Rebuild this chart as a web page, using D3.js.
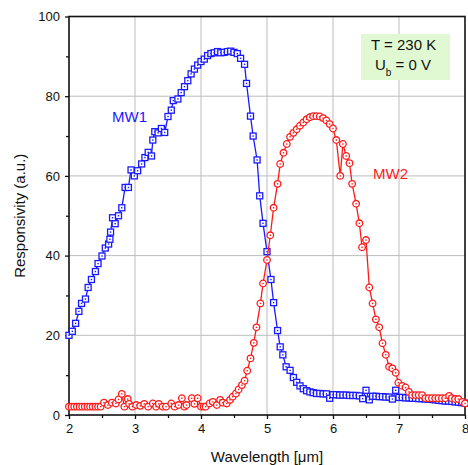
<!DOCTYPE html>
<html>
<head>
<meta charset="utf-8">
<script src="https://cdn.jsdelivr.net/npm/d3@7"></script>
<style>
  body { margin:0; background:#fff; }
  svg text { font-family: "Liberation Sans", Arial, sans-serif; fill:#111; }
</style>
</head>
<body>
<div id="chart"></div>
<script>
// MW1 (blue squares)
var mw1Wl = [2.00,2.05,2.10,2.15,2.19,2.25,2.29,2.34,2.40,2.44,2.50,2.55,2.60,2.62,2.63,2.66,2.70,2.75,2.80,2.85,
  2.90,2.94,2.99,3.04,3.10,3.15,3.20,3.25,3.27,3.30,3.35,3.40,3.45,3.50,3.55,3.58,3.65,3.70,3.75,3.80,
  3.85,3.90,3.95,4.00,4.05,4.10,4.15,4.20,4.25,4.30,4.35,4.40,4.45,4.50,4.55,4.60,4.66,4.69,4.75,4.79,
  4.85,4.89,4.94,5.00,5.06,5.10,5.16,5.20,5.24,5.29,5.35,5.40,5.45,5.50,5.55,5.60,5.65,5.70,5.75,5.80,
  5.85,5.90,5.95,6.00,6.05,6.10,6.15,6.20,6.25,6.30,6.35,6.40,6.45,6.50,6.55,6.60,6.65,6.70,6.75,6.80,
  6.85,6.90,6.95,7.00,7.05,7.10,7.15,7.20,7.25,7.30,7.35,7.40,7.45,7.50,7.55,7.60,7.65,7.70,7.75,7.80,
  7.85,7.90,7.95,8.00];
var mw1Resp = [20.0,21.0,23.0,26.0,28.0,29.1,32.0,34.0,36.0,38.0,39.9,41.9,42.9,44.1,45.9,49.5,48.0,50.0,52.0,57.1,
  57.1,61.5,60.0,61.3,63.0,64.6,65.9,65.0,69.0,71.1,70.8,71.9,70.9,74.9,76.5,78.9,79.3,80.9,82.4,83.9,
  85.6,86.8,87.8,88.7,89.3,90.2,90.7,90.9,91.2,90.9,91.0,91.2,91.3,91.0,90.7,89.5,88.0,83.2,75.0,70.0,
  64.0,55.0,48.1,41.0,34.0,28.2,21.2,17.1,15.1,12.1,11.2,9.4,8.2,7.3,6.6,6.1,5.8,5.6,5.4,5.4,
  5.3,5.3,4.2,5.1,5.1,5.0,5.0,5.0,4.9,4.9,4.9,4.8,4.1,6.2,3.8,4.7,4.7,4.6,4.6,4.5,
  4.5,4.0,6.2,4.4,4.4,4.3,4.3,4.2,4.2,4.1,4.1,4.0,4.0,3.9,3.8,3.7,3.6,3.5,3.5,3.4,
  3.3,3.2,3.1,3.0];

// MW2 (red circles)
var mw2Wl = [2.00,2.04,2.08,2.12,2.16,2.20,2.24,2.28,2.32,2.36,2.40,2.44,2.48,2.53,2.59,2.65,2.71,2.75,2.80,2.84,
  2.89,2.91,2.96,3.02,3.08,3.14,3.20,3.27,3.32,3.36,3.42,3.47,3.55,3.60,3.66,3.71,3.75,3.78,3.86,3.90,
  3.95,4.00,4.04,4.07,4.13,4.18,4.24,4.29,4.33,4.39,4.44,4.48,4.53,4.57,4.62,4.66,4.70,4.75,4.80,4.84,
  4.90,4.94,5.00,5.05,5.10,5.16,5.20,5.25,5.30,5.35,5.40,5.45,5.50,5.55,5.60,5.65,5.70,5.75,5.80,5.85,
  5.90,5.95,6.00,6.05,6.11,6.15,6.20,6.25,6.29,6.35,6.40,6.44,6.50,6.55,6.60,6.65,6.70,6.75,6.80,6.85,
  6.90,6.95,6.99,7.05,7.10,7.15,7.20,7.25,7.30,7.35,7.40,7.45,7.50,7.55,7.60,7.65,7.70,7.76,7.80,7.85,
  7.90,7.96,8.00];
var mw2Resp = [2.1,2.1,2.1,2.1,2.1,2.1,2.1,2.1,2.1,2.1,2.1,2.1,2.1,3.1,2.5,3.1,2.9,3.9,5.3,2.1,
  4.0,2.8,2.1,2.5,2.3,2.8,2.1,2.9,2.1,2.8,2.1,2.1,2.9,2.1,2.5,4.2,2.1,2.5,4.2,2.8,
  4.2,2.1,2.1,2.1,2.9,3.3,2.5,3.8,3.1,2.9,3.8,4.6,5.4,6.4,7.5,8.6,11.1,14.2,18.1,22.0,
  28.0,33.0,38.9,45.1,52.0,58.0,63.0,65.8,68.0,69.8,70.8,71.7,72.6,73.4,74.2,74.7,75.0,75.0,74.9,74.5,
  73.9,73.0,71.9,69.0,60.0,68.0,65.0,63.2,58.0,53.0,48.1,42.1,43.9,32.0,28.0,24.0,22.0,18.0,15.1,12.1,
  11.7,10.6,8.1,7.3,6.9,5.8,5.0,5.0,5.0,5.0,4.2,4.2,4.2,4.2,4.2,4.2,4.2,4.8,4.2,4.0,
  4.0,3.3,2.9];

var xTicks = [2,3,4,5,6,7,8];
var xMinor = d3.range(2.5, 8, 1);
var yTicks = [0,20,40,60,80,100];
var yMinor = [10,30,50,70,90];

var W = 468, H = 465;
var margin = {top:16.5, right:3, bottom:50, left:69};

var svg = d3.select('#chart').append('svg')
  .attr('width', W).attr('height', H);

var x = d3.scaleLinear().domain([2,8]).range([margin.left, W - margin.right]);
var y = d3.scaleLinear().domain([0,100]).range([H - margin.bottom, margin.top]);

// grid
var grid = svg.append('g').attr('class','grid');
grid.selectAll('.gx').data(xTicks.slice(1,-1)).enter().append('line')
  .attr('x1', function(d){ return x(d); }).attr('x2', function(d){ return x(d); })
  .attr('y1', y(0)).attr('y2', y(100))
  .attr('stroke','#bdbdbd').attr('stroke-width',1);
grid.selectAll('.gy').data(yTicks.slice(1,-1)).enter().append('line')
  .attr('x1', x(2)).attr('x2', x(8))
  .attr('y1', function(d){ return y(d); }).attr('y2', function(d){ return y(d); })
  .attr('stroke','#bdbdbd').attr('stroke-width',1);

// info box
var box = svg.append('g');
box.append('rect').attr('x',361).attr('y',34).attr('width',89).attr('height',46).attr('fill','#e1f9d2');
box.append('text').attr('x',371).attr('y',50).attr('font-size',15).text('T = 230 K');
var ub = box.append('text').attr('x',375).attr('y',70).attr('font-size',15);
ub.append('tspan').text('U');
ub.append('tspan').attr('font-size',10).attr('dy',6).text('b');
ub.append('tspan').attr('dy',-6).text(' = 0 V');

// axes
var xAxis = svg.append('g').attr('transform','translate(0,'+y(0)+')')
  .call(d3.axisBottom(x).tickValues(xTicks).tickSize(4).tickPadding(5).tickFormat(d3.format('d')));
svg.append('g').attr('transform','translate(0,'+y(0)+')')
  .call(d3.axisBottom(x).tickValues(xMinor).tickSize(3).tickFormat(''));
var yAxis = svg.append('g').attr('transform','translate('+x(2)+',0)')
  .call(d3.axisLeft(y).tickValues(yTicks).tickSize(4).tickPadding(5));
svg.append('g').attr('transform','translate('+x(2)+',0)')
  .call(d3.axisLeft(y).tickValues(yMinor).tickSize(3).tickFormat(''));
svg.selectAll('.domain').remove();
svg.selectAll('.tick line').attr('stroke','#111').attr('stroke-width',1.3);
svg.selectAll('.tick text').attr('font-size',13).attr('font-family','"Liberation Sans", Arial, sans-serif').attr('fill','#111');

// frame
svg.append('rect').attr('x',x(2)).attr('y',y(100))
  .attr('width',x(8)-x(2)).attr('height',y(0)-y(100))
  .attr('fill','none').attr('stroke','#111').attr('stroke-width',1.6);

// series
function series(wl, resp, color, shape) {
  var pts = wl.map(function(d,i){ return [d, resp[i]]; });
  var line = d3.line().x(function(d){ return x(d[0]); }).y(function(d){ return y(d[1]); });
  var g = svg.append('g');
  g.append('path').datum(pts).attr('d', line)
    .attr('fill','none').attr('stroke',color).attr('stroke-width',1.3);
  var m = g.selectAll('.m').data(pts).enter().append('g')
    .attr('transform', function(d){ return 'translate('+x(d[0])+','+y(d[1])+')'; });
  if (shape === 'square') {
    m.append('rect').attr('x',-3).attr('y',-3).attr('width',6).attr('height',6)
      .attr('fill','#fff').attr('stroke',color).attr('stroke-width',1.3);
  } else {
    m.append('circle').attr('r',3.3)
      .attr('fill','#fff').attr('stroke',color).attr('stroke-width',1.3);
  }
  m.append('rect').attr('x',-0.7).attr('y',-0.7).attr('width',1.4).attr('height',1.4).attr('fill',color);
}
series(mw1Wl, mw1Resp, '#1a1aff', 'square');
series(mw2Wl, mw2Resp, '#ff1a1a', 'circle');

// series labels
svg.append('text').attr('x',112).attr('y',122).attr('font-size',15).style('fill','#1a1aff').text('MW1');
svg.append('text').attr('x',373).attr('y',179).attr('font-size',15).style('fill','#ff1a1a').text('MW2');

// axis titles
svg.append('text').attr('x', x(5)).attr('y', 462).attr('text-anchor','middle')
  .attr('font-size',15).text('Wavelength [\u03bcm]');
svg.append('text').attr('transform','translate(25,'+y(50)+') rotate(-90)')
  .attr('text-anchor','middle').attr('font-size',15).text('Responsivity (a.u.)');
</script>
</body>
</html>
